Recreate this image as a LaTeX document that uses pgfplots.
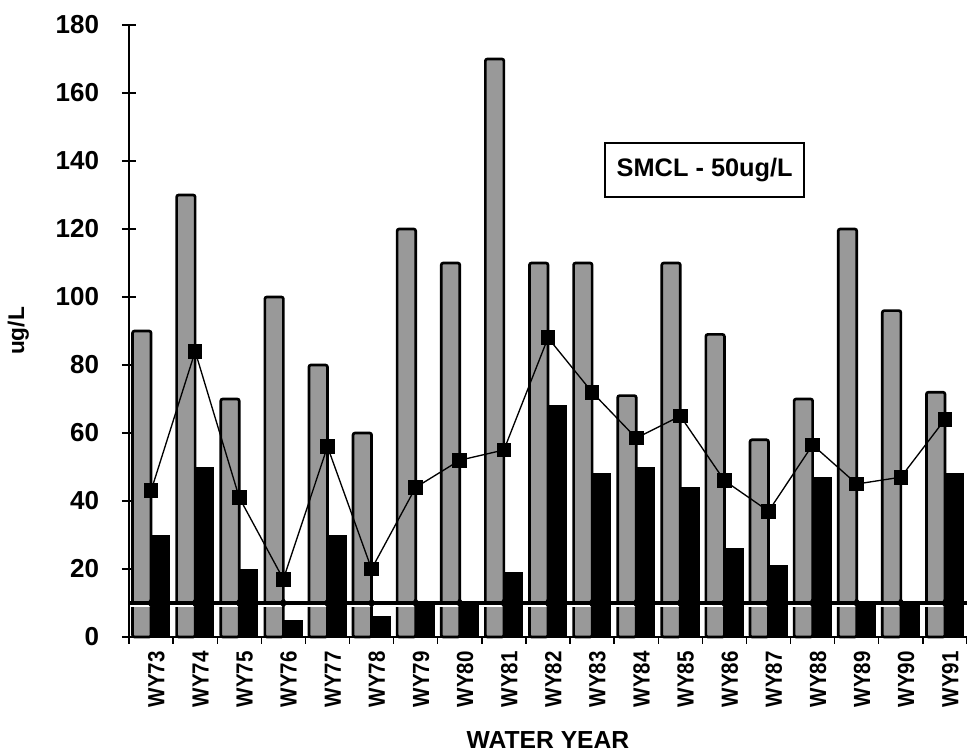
\documentclass[border=0pt]{standalone}
\usepackage{pgfplots}
\pgfplotsset{compat=1.18}
\usepackage{pgfplotstable}
\usepackage{fontspec}
\setmainfont{Liberation Sans}
\newfontfamily\narrowfont[FakeStretch=0.88]{Liberation Sans}

\pgfplotstableread{
x gmax bmin mean lim
0 90 30 43 10
1 130 50 84 10
2 70 20 41 10
3 100 5 17 10
4 80 30 56 10
5 60 6 20 10
6 120 10 44 10
7 110 10 52 10
8 170 19 55 10
9 110 68 88 10
10 110 48 72 10
11 71 50 58.5 10
12 110 44 65 10
13 89 26 46 10
14 58 21 37 10
15 70 47 56.5 10
16 120 10 45 10
17 96 10 47 10
18 72 48 64 10
}\data

\begin{document}
\begin{tikzpicture}
\begin{axis}[
  scale only axis, width=628.5pt, height=459pt,
  xmin=-0.5, xmax=18.5, ymin=0, ymax=180,
  axis x line=bottom, axis y line=left,
  axis line style={line width=1pt, -},
  clip=false,
  xtick={0,...,18},
  xticklabels={WY73,WY74,WY75,WY76,WY77,WY78,WY79,WY80,WY81,WY82,WY83,WY84,WY85,WY86,WY87,WY88,WY89,WY90,WY91},
  minor xtick={-0.5,0.5,...,18.5},
  major x tick style={draw=none},
  minor x tick style={line width=1pt, black},
  minor tick length=5pt,
  xtick align=outside,
  ytick={0,20,...,180},
  ytick align=center,
  major tick length=10.5pt,
  y tick style={line width=1pt, black},
  /pgf/number format/assume math mode=true,
  yticklabel style={font=\fontsize{19.5}{19.5}\selectfont\bfseries, inner sep=0pt, xshift=-17pt},
  xticklabel style={font=\fontsize{17.5}{17.5}\narrowfont\bfseries, rotate=90, anchor=east, inner sep=0pt, yshift=-4pt},
]
\coordinate (bl) at (rel axis cs:0,0);
\coordinate (tr) at (rel axis cs:1,1);
\addplot[ybar, bar width=0.42, bar shift=-0.21, fill=black!40, draw=black, line width=2pt, rounded corners=1.5pt] table[x=x,y=gmax]{\data};
\addplot[white, line width=1.4pt] coordinates {(-0.45,9.0) (18.5,9.0)};
\addplot[ybar, bar width=0.42, bar shift=0.21, fill=black, draw=black, line width=0.5pt] table[x=x,y=bmin]{\data};
\addplot[black, line width=2.5pt] coordinates {(-0.5,10) (18.5,10)};
\addplot[only marks, mark=diamond*, mark size=3.5pt, black] table[x=x,y=lim]{\data};
\addplot[black, line width=1pt, mark=square*, mark size=5pt, mark options={solid}] table[x=x,y=mean]{\data};
\node[draw, line width=1.5pt, minimum width=149pt, minimum height=41pt, inner sep=0pt, font=\fontsize{19}{19}\selectfont\bfseries] at (rel axis cs:0.687,0.763) {SMCL - 50ug/L};
\node[rotate=90, font=\fontsize{17}{17}\selectfont\bfseries] at ([xshift=-83pt]rel axis cs:0,0.5) {ug/L};
\node[anchor=base, font=\fontsize{18.5}{18.5}\selectfont\bfseries] at ([yshift=-83.5pt]rel axis cs:0.5,0) {WATER YEAR};
\end{axis}
\pgfresetboundingbox
\path[use as bounding box] ([xshift=-96.75pt,yshift=-87.75pt]bl) rectangle ([yshift=18.75pt]tr);
\end{tikzpicture}
\end{document}
